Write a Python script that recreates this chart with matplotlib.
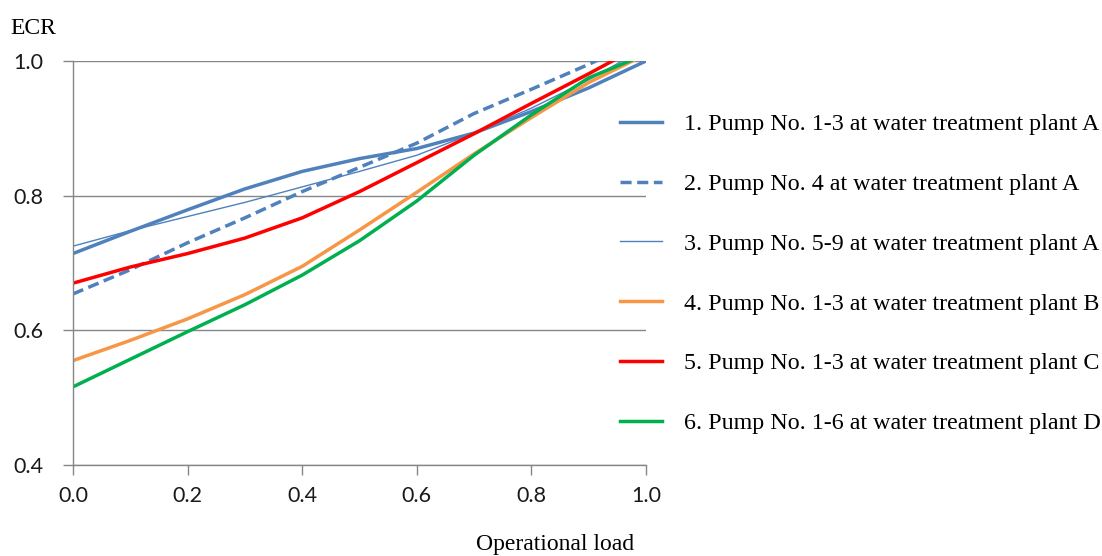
import numpy as np
import matplotlib
matplotlib.use("Agg")
import matplotlib.pyplot as plt

# operational load and ECR values
load = [0.0, 0.1, 0.2, 0.3, 0.4, 0.5, 0.6, 0.7, 0.8, 0.9, 1.0]
pump1_A = [0.714, 0.747, 0.779, 0.810, 0.836, 0.855, 0.870, 0.893, 0.925, 0.960, 1.000]
pump4_A = [0.654, 0.690, 0.730, 0.767, 0.806, 0.842, 0.878, 0.922, 0.958, 0.995, 1.035]
pump5_A = [0.725, 0.748, 0.769, 0.790, 0.813, 0.836, 0.860, 0.893, 0.930, 0.972, 1.020]
pump1_B = [0.555, 0.585, 0.617, 0.653, 0.695, 0.749, 0.805, 0.862, 0.916, 0.968, 1.010]
pump1_C = [0.670, 0.694, 0.714, 0.737, 0.767, 0.806, 0.849, 0.892, 0.937, 0.981, 1.027]
pump1_D = [0.516, 0.557, 0.598, 0.638, 0.682, 0.733, 0.792, 0.860, 0.920, 0.975, 1.010]

labels = ["1. Pump No. 1-3 at water treatment plant A",
          "2. Pump No. 4 at water treatment plant A",
          "3. Pump No. 5-9 at water treatment plant A",
          "4. Pump No. 1-3 at water treatment plant B",
          "5. Pump No. 1-3 at water treatment plant C",
          "6. Pump No. 1-6 at water treatment plant D"]

blue = "#4F81BD"
orange = "#F79646"
red = "#FF0000"
green = "#00B050"
grey = "#868686"

fig = plt.figure(figsize=(11.02, 5.56), dpi=100)
ax = fig.add_axes([0.0662, 0.1637, 0.52, 0.7266])

ax.plot(load, pump1_A, color=blue, lw=2.5, label=labels[0])
ax.plot(load, pump4_A, color=blue, lw=2.5, ls=(0, (3.2, 1.6)), label=labels[1])
ax.plot(load, pump5_A, color=blue, lw=1.0, label=labels[2])
ax.plot(load, pump1_B, color=orange, lw=2.5, label=labels[3])
ax.plot(load, pump1_C, color=red, lw=2.5, label=labels[4])
ax.plot(load, pump1_D, color=green, lw=2.5, label=labels[5])

ax.set_xlim(0, 1.0)
ax.set_ylim(0.4, 1.0)
ax.set_xticks([0.0, 0.2, 0.4, 0.6, 0.8, 1.0])
ax.set_yticks([0.4, 0.6, 0.8, 1.0])
ax.set_xticklabels(["0.0", "0.2", "0.4", "0.6", "0.8", "1.0"])
ax.set_yticklabels(["0.4", "0.6", "0.8", "1.0"])
ax.grid(axis="y", color=grey, lw=1.0)
ax.set_axisbelow(True)
for s in ["top", "right"]:
    ax.spines[s].set_visible(False)
for s in ["left", "bottom"]:
    ax.spines[s].set_color(grey)
    ax.spines[s].set_linewidth(1.0)
ax.tick_params(axis="both", colors=grey, length=7, width=1.0, labelsize=15.5)
ax.tick_params(axis="x", pad=8)
ax.tick_params(axis="y", pad=14)
for t in ax.get_xticklabels() + ax.get_yticklabels():
    t.set_color("#1a1a1a")
    t.set_family("Lato")

fig.text(0.009, 0.948, "ECR", family="Liberation Serif", fontsize=17, va="center")
fig.text(0.504, 0.02, "Operational load", family="Liberation Serif", fontsize=17,
         ha="center", va="center")

leg = ax.legend(loc="upper left", bbox_to_anchor=(0.955, 0.87), frameon=False,
                prop={"family": "Liberation Serif", "size": 17.3},
                handlelength=1.75, handletextpad=0.9, labelspacing=1.58,
                borderaxespad=0, borderpad=0)

fig.savefig("out.png", dpi=100)
